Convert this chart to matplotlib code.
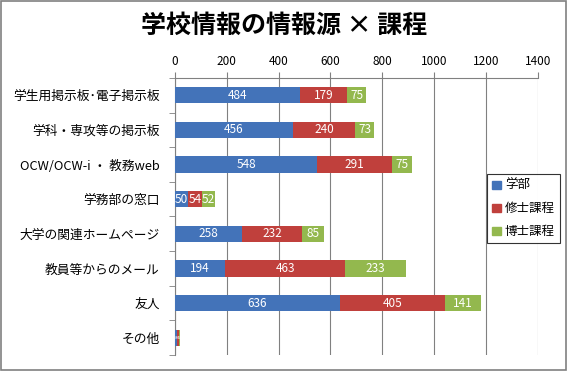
import numpy as np
import matplotlib.pyplot as plt
from matplotlib.patches import Rectangle, Patch

plt.rcParams['font.family'] = ['Noto Sans CJK JP', 'DejaVu Sans']

# --- data ---
categories = ['学生用掲示板･電子掲示板', '学科・専攻等の掲示板', 'OCW/OCW-i ・ 教務web',
              '学務部の窓口', '大学の関連ホームページ', '教員等からのメール', '友人', 'その他']
series_names = ['学部', '修士課程', '博士課程']
gakubu = [484, 456, 548, 50, 258, 194, 636, 8]
shushi = [179, 240, 291, 54, 232, 463, 405, 6]
hakushi = [75, 73, 75, 52, 85, 233, 141, 5]
colors = ['#4373B9', '#C0403C', '#93B84E']
xticks = [0, 200, 400, 600, 800, 1000, 1200, 1400]

fig = plt.figure(figsize=(5.68, 3.71), dpi=100)
ax = fig.add_axes([0.308, 0.043, 0.639, 0.747])

y = np.arange(len(categories))
left = np.zeros(len(categories))
for vals, name, col in zip([gakubu, shushi, hakushi], series_names, colors):
    vals = np.array(vals)
    ax.barh(y, vals, left=left, height=0.47, color=col, label=name, zorder=3)
    for yi, l, v in zip(y, left, vals):
        fs = 8.5 if v >= 20 else 3
        ax.text(l + v / 2, yi, str(v), ha='center', va='center', color='white',
                fontsize=fs, zorder=4)
    left = left + vals

ax.set_xlim(0, 1400)
ax.set_ylim(len(categories) - 0.5, -0.5)
ax.set_xticks(xticks)
ax.xaxis.tick_top()
ax.tick_params(axis='x', direction='out', length=4, labelsize=8.5, pad=3, color='#808080')
ax.set_yticks(y)
ax.set_yticklabels(categories, fontsize=9.2)
ax.tick_params(axis='y', which='major', length=0, pad=11)
ax.set_yticks(np.arange(len(categories) + 1) - 0.5, minor=True)
ax.tick_params(axis='y', which='minor', length=4, direction='out', color='#808080')
ax.grid(axis='x', color='#808080', linewidth=0.8, zorder=0)
for s in ['right', 'bottom']:
    ax.spines[s].set_visible(False)
ax.spines['top'].set_color('#808080')
ax.spines['left'].set_color('#808080')

handles = [Patch(color=c) for c in colors]
leg = fig.legend(handles, series_names, loc='upper left', bbox_to_anchor=(0.847, 0.547),
                 fontsize=9, frameon=True, fancybox=False, edgecolor='black',
                 handlelength=0.7, handleheight=0.7, handletextpad=0.3,
                 labelspacing=0.8, borderpad=0.4)
leg.get_frame().set_linewidth(0.8)

fig.text(0.5, 0.93, '学校情報の情報源 × 課程', ha='center', va='center',
         fontsize=18, fontweight='bold')

fig.patches.append(Rectangle((0.002, 0.003), 0.995, 0.994, transform=fig.transFigure,
                             fill=False, edgecolor='#808080', linewidth=1.2))

fig.savefig('out.png', dpi=100)
